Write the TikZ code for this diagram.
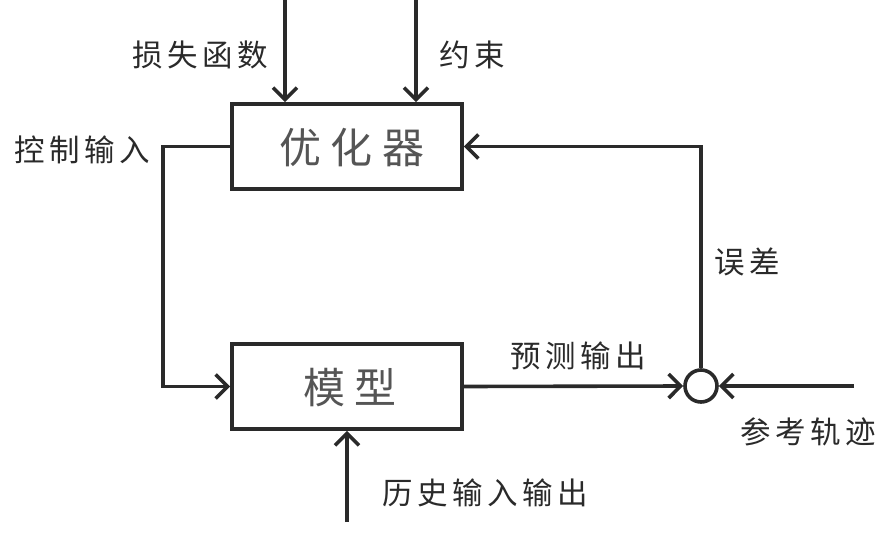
\documentclass[tikz,border=0pt]{standalone}
\usepackage{fontspec}
\newfontfamily\cjk[LetterSpace=15]{Noto Sans CJK SC}
\newfontfamily\cjkbox[LetterSpace=22]{Noto Sans CJK SC}
\usetikzlibrary{arrows.meta}
\definecolor{ink}{HTML}{2A2A2A}
\begin{document}
\begin{tikzpicture}[x=1pt,y=-1pt,
  line width=3.6pt, draw=ink,
  conn/.style={draw=ink, line width=3.6pt, -{Straight Barb[length=12pt,width=24pt,line width=3.6pt]}},
  blk/.style={draw=ink, line width=3.6pt, minimum width=230pt, minimum height=85pt, inner sep=0pt},
  lbl/.style={text=ink, font=\cjk\fontsize{30.5pt}{30.5pt}\selectfont, inner sep=0pt},
  blbl/.style={text=ink!80, font=\cjkbox\fontsize{42pt}{42pt}\selectfont, inner sep=0pt}]
\useasboundingbox (0,0) rectangle (881,538);
\node[blk] (opt) at (347,146.5) {};
\node[blk] (mod) at (347,386.5) {};
\node[blbl] (optt) at (352,148) {优化器};
\node[blbl] (modt) at (350,388) {模型};
\node[draw=ink, line width=3.6pt, circle, minimum size=32pt, inner sep=0pt] (sum) at (701,386) {};
% top inputs
\coordinate (lossS) at (285,0);
\coordinate (consS) at (416,0);
\draw[conn] (lossS) -- (lossS |- opt.north);
\draw[conn] (consS) -- (consS |- opt.north);
% control input
\coordinate (cL) at (163,146.5);
\draw[conn] (opt.west) -- (cL) -- (cL |- mod.west) -- (mod.west);
% predicted output
\draw[conn] (mod.east) -- (sum.west);
% reference
\coordinate (refS) at (854,386);
\draw[conn] (refS) -- (sum.east);
% error feedback
\coordinate (eT) at (701,146.5);
\draw[conn] (sum.north) -- (eT) -- (opt.east);
% history
\coordinate (hS) at (347,522);
\draw[conn] (hS) -- (mod.south);
% labels
\node[lbl] (l1) at (200,55) {损失函数};
\node[lbl] (l2) at (472,55) {约束};
\node[lbl] (l3) at (82,150) {控制输入};
\node[lbl] (l4) at (747,262) {误差};
\node[lbl] (l5) at (578,356) {预测输出};
\node[lbl] (l6) at (808,432) {参考轨迹};
\node[lbl] (l7) at (485,493) {历史输入输出};
\end{tikzpicture}
\end{document}
